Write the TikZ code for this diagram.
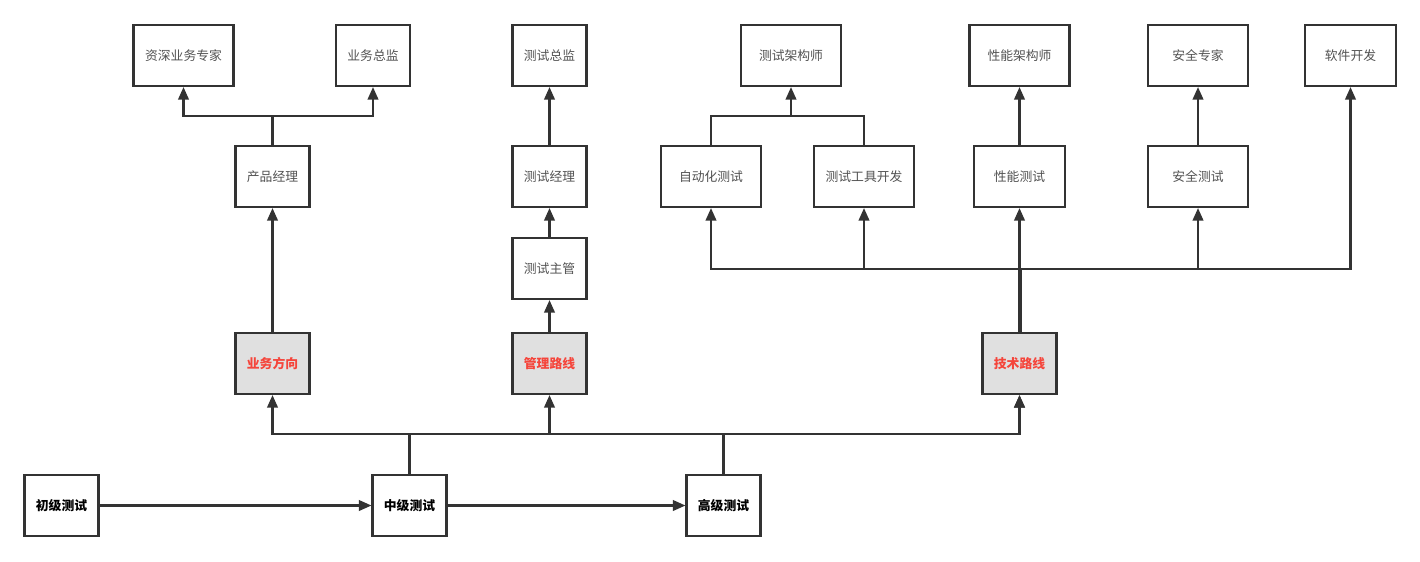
\documentclass[tikz,border=0pt]{standalone}
\usepackage{fontspec}
\setmainfont{Noto Sans CJK SC}
\usetikzlibrary{arrows.meta}
\definecolor{ln}{HTML}{333333}
\definecolor{redt}{HTML}{F5453B}
\definecolor{grayf}{HTML}{E0E0E0}
\begin{document}
\begin{tikzpicture}[x=0.75pt,y=-0.75pt,
  box/.style={draw=ln, line width=1.6pt, fill=white, inner sep=0pt,
    minimum height=45.75pt, font=\fontsize{9.6}{12}\selectfont, text=ln!85!white},
  bA/.style={minimum width=55.5pt},
  bB/.style={minimum width=75pt},
  bC/.style={minimum width=68.25pt},
  keybox/.style={fill=grayf, text=redt, font=\fontsize{9.6}{12}\selectfont\bfseries},
  lvl/.style={text=black, font=\fontsize{9.6}{12}\selectfont\bfseries},
  plain/.style={draw=ln, line width=1.6pt},
  conn/.style={draw=ln, line width=1.6pt, -{Triangle[length=9.5pt,width=8pt]}}]
\useasboundingbox (0,0) rectangle (1420,561);
\fill[white] (0,0) rectangle (1420,561);

% business branch
\node[box,bB] (zs) at (183.5,55.5) {资深业务专家};
\node[box,bA] (yz) at (373,55.5) {业务总监};
\node[box,bA] (cp) at (272.5,176.5) {产品经理};
\node[box,bA,keybox] (yw) at (272.5,363.5) {业务方向};

% management branch
\node[box,bA] (cz) at (549.5,55.5) {测试总监};
\node[box,bA] (cl) at (549.5,176.5) {测试经理};
\node[box,bA] (cg) at (549.5,268.5) {测试主管};
\node[box,bA,keybox] (gl) at (549.5,363.5) {管理路线};

% technical branch
\node[box,bB] (ja) at (791,55.5) {测试架构师};
\node[box,bB] (zd) at (711,176.5) {自动化测试};
\node[box,bB] (gk) at (864,176.5) {测试工具开发};
\node[box,bB] (xa) at (1019.5,55.5) {性能架构师};
\node[box,bC] (xc) at (1019.5,176.5) {性能测试};
\node[box,bB] (az) at (1198,55.5) {安全专家};
\node[box,bB] (ac) at (1198,176.5) {安全测试};
\node[box,bC] (rk) at (1350.5,55.5) {软件开发};
\node[box,bA,keybox] (js) at (1019.5,363.5) {技术路线};

% levels
\node[box,bA,lvl] (cj) at (61.5,505.5) {初级测试};
\node[box,bA,lvl] (zj) at (409.5,505.5) {中级测试};
\node[box,bA,lvl] (gj) at (723.5,505.5) {高级测试};

% junction points
\coordinate (j1) at (272.5,116);
\coordinate (j2) at (791,116);
\coordinate (tb) at (1019.5,269);
\coordinate (bz) at (409.5,434);
\coordinate (bg) at (723.5,434);

% level arrows
\draw[conn] (cj.east) -- (zj.west);
\draw[conn] (zj.east) -- (gj.west);

% lower bus
\draw[plain] (zj.north) -- (bz);
\draw[plain] (gj.north) -- (bg);
\draw[conn] (bz) -| (yw.south);
\draw[conn] (bz) -| (gl.south);
\draw[conn] (bz) -| (js.south);
\draw[conn] (bg) -| (js.south);

% business
\draw[conn] (yw.north) -- (cp.south);
\draw[plain] (cp.north) -- (j1);
\draw[conn] (j1) -| (zs.south);
\draw[conn] (j1) -| (yz.south);

% management
\draw[conn] (gl.north) -- (cg.south);
\draw[conn] (cg.north) -- (cl.south);
\draw[conn] (cl.north) -- (cz.south);

% technical
\draw[plain, line width=3pt] (js.north) -- (tb);
\draw[conn] (tb) -| (zd.south);
\draw[conn] (tb) -| (gk.south);
\draw[conn] (tb) -- (xc.south);
\draw[conn] (tb) -| (ac.south);
\draw[conn] (tb) -| (rk.south);
\draw[plain] (zd.north) |- (j2);
\draw[plain] (gk.north) |- (j2);
\draw[conn] (j2) -- (ja.south);
\draw[conn] (xc.north) -- (xa.south);
\draw[conn] (ac.north) -- (az.south);
\end{tikzpicture}
\end{document}
